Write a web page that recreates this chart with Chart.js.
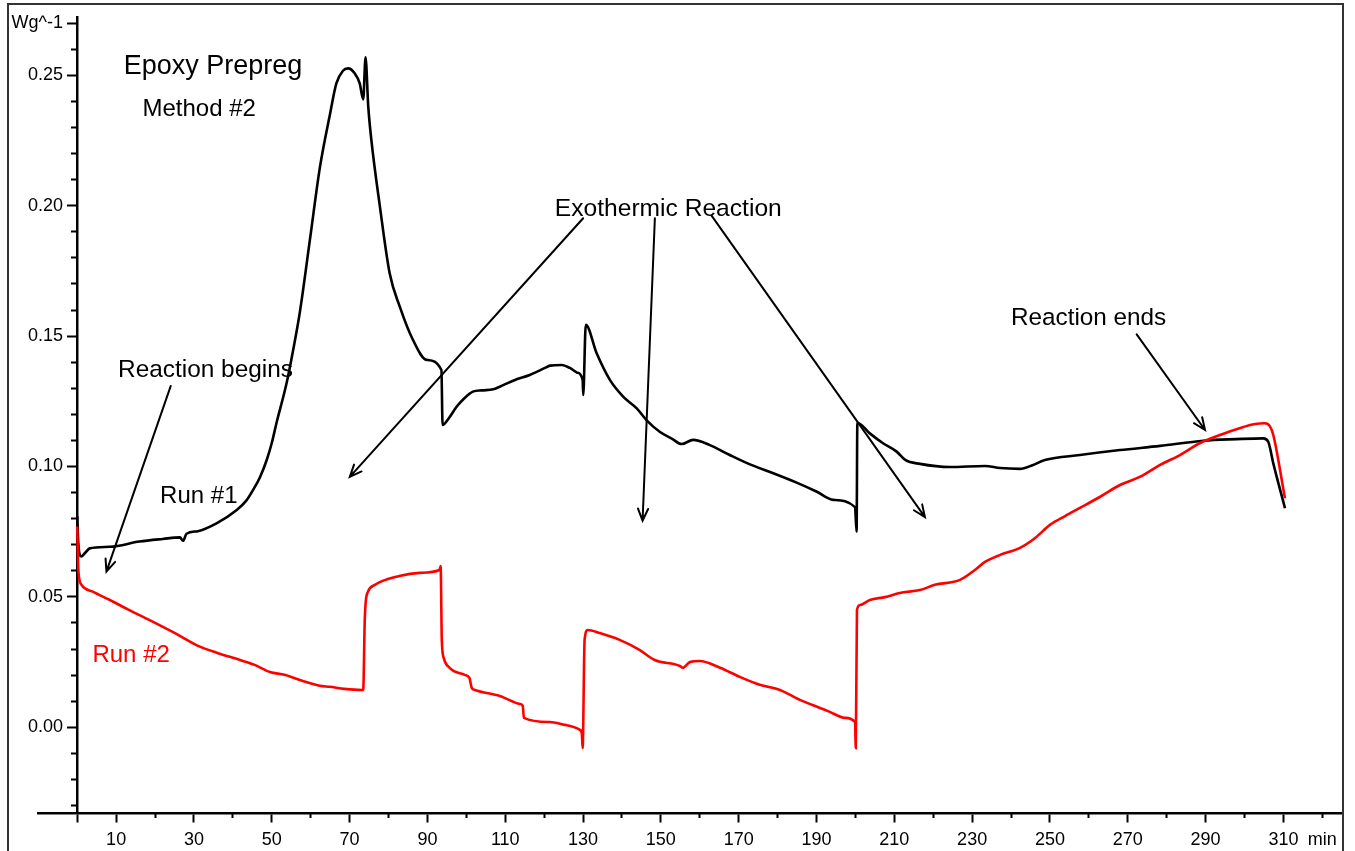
<!DOCTYPE html>
<html>
<head>
<meta charset="utf-8">
<title>Epoxy Prepreg DSC</title>
<script src="https://cdn.jsdelivr.net/npm/chart.js@4.4.1/dist/chart.umd.min.js"></script>
<style>
  html, body { margin: 0; padding: 0; background: #fff; overflow: hidden; }
  #wrap { position: relative; width: 1355px; height: 851px; }
  #plot { position: absolute; left: 0; top: 0; }
  #frame { position: absolute; left: 7px; top: 3px; width: 1337px; height: 900px;
           border: 2px solid #333; box-sizing: border-box; pointer-events: none; }
</style>
</head>
<body>
<div id="wrap">
  <canvas id="plot" width="1355" height="851"></canvas>
  <div id="frame"></div>
</div>
<script>
// Heat flow (W/g) against time (min) for the two runs: [min, W/g]
const run1Points = [
  [0, 0.081], [0.3, 0.0700], [1.0, 0.0655], [2.0, 0.0668], [3.2, 0.0686], [8.4, 0.0692],
  [16, 0.0712], [22, 0.0722], [26.4, 0.0728], [27.2, 0.0715], [28.1, 0.0742], [31, 0.0752],
  [35.8, 0.0782], [41, 0.0833], [43.5, 0.0870], [45.2, 0.0910], [47, 0.0960], [48.7, 0.1025],
  [50, 0.1090], [51.2, 0.1166], [53.8, 0.1319], [55.5, 0.1447], [57.2, 0.1590], [59.8, 0.1869],
  [62.4, 0.2150], [65.0, 0.2354], [66.6, 0.2469], [68.3, 0.2518], [69.6, 0.2527], [71.3, 0.2508],
  [72.6, 0.2469], [73.5, 0.2408], [74.1, 0.2569], [74.8, 0.2380], [75.6, 0.2252], [77.8, 0.1996],
  [80.3, 0.1741], [82.9, 0.1613], [86.3, 0.1485], [89.8, 0.1409], [93.6, 0.1370], [93.9, 0.1159],
  [95.5, 0.1185], [97.5, 0.1229], [99.5, 0.1262], [101.7, 0.1287], [104, 0.1292], [106.9, 0.1296],
  [108.6, 0.1306], [112.5, 0.1332], [116.3, 0.1351], [120.2, 0.1378], [121.5, 0.1387], [124.5, 0.1389],
  [126.6, 0.1378], [128.5, 0.1360], [129.9, 0.1332], [130.05, 0.1274], [130.7, 0.1543], [133.5, 0.1434],
  [136.9, 0.1332], [140.3, 0.1268], [143.8, 0.1223], [146.3, 0.1178], [149.7, 0.1133], [153, 0.1105],
  [155.3, 0.1086], [158.3, 0.1102], [162.6, 0.1082], [167.7, 0.1044], [172.9, 0.1008], [178.9, 0.0974],
  [184.9, 0.0938], [190.1, 0.0903], [194.3, 0.0872], [199.9, 0.0844], [200.3, 0.0750], [200.5, 0.1168],
  [203.7, 0.1127], [207.1, 0.1089], [210.6, 0.1057], [212.8, 0.1025], [216.6, 0.1010], [224.3, 0.0998],
  [233.3, 0.1002], [237.2, 0.0994], [242.3, 0.0991], [245.5, 0.1005], [248.7, 0.1025], [257.7, 0.1044],
  [268, 0.1063], [278.3, 0.1079], [289.4, 0.1099], [298, 0.1105], [304.8, 0.1108], [306.1, 0.1095],
  [307.4, 0.1012], [310.4, 0.0840]
];

const run2Points = [
  [0, 0.077], [0.3, 0.0600], [1.1, 0.0546], [4, 0.0520], [8.4, 0.0488], [13, 0.0452],
  [18.6, 0.0411], [25, 0.0362], [31.5, 0.0309], [36, 0.0285], [41.8, 0.0258], [45.6, 0.0239],
  [49.5, 0.0212], [53.3, 0.0201], [57.2, 0.0181], [62.3, 0.0159], [64.9, 0.0155], [68.7, 0.0147],
  [73.2, 0.0143], [73.5, 0.0143], [73.9, 0.0412], [74.2, 0.0488], [74.7, 0.0519], [76.5, 0.0546],
  [82.8, 0.0580], [88, 0.0592], [93.1, 0.0603], [93.4, 0.0618], [93.7, 0.0335], [94.2, 0.0266],
  [95.7, 0.0228], [99.6, 0.0201], [100.8, 0.0189], [101.4, 0.0151], [102.2, 0.0143], [108.6, 0.0120],
  [113.8, 0.0089], [114.5, 0.0082], [114.8, 0.0036], [121.5, 0.0020], [125.3, 0.0009], [129.2, -0.0010],
  [129.7, -0.0026], [129.9, -0.0080], [130.4, 0.0335], [131.2, 0.0373], [134.3, 0.0361], [139.4, 0.0335],
  [144.6, 0.0296], [148.4, 0.0258], [154.9, 0.0235], [155.6, 0.0228], [157.5, 0.0250], [160, 0.0254],
  [165.2, 0.0228], [170.3, 0.0193], [175.4, 0.0163], [180.6, 0.0143], [185.7, 0.0105], [190.9, 0.0074],
  [193.4, 0.0059], [197.3, 0.0036], [199.9, 0.0020], [200.1, -0.0080], [200.4, 0.0450], [201.2, 0.0469],
  [203.7, 0.0488], [207.6, 0.0499], [211.4, 0.0515], [216.6, 0.0526], [220.4, 0.0546], [226.9, 0.0565],
  [230.7, 0.0603], [233.3, 0.0634], [237.2, 0.0661], [242.3, 0.0688], [246.2, 0.0726], [250, 0.0776],
  [253.9, 0.0810], [257.7, 0.0841], [262.8, 0.0883], [268, 0.0929], [273.1, 0.0960], [278.3, 0.1006],
  [283.4, 0.1044], [288.6, 0.1090], [293.7, 0.1121], [298.9, 0.1148], [302.7, 0.1163], [305.2, 0.1166],
  [306.5, 0.1155], [307.4, 0.1121], [310.4, 0.0878]
];

// Axis ticks
const xMajorTicks = [0, 10, 30, 50, 70, 90, 110, 130, 150, 170, 190, 210, 230, 250, 270, 290, 310, 320];
const xMinorTicks = [20, 40, 60, 80, 100, 120, 140, 160, 180, 200, 220, 240, 260, 280, 300, 320];
const yMajorTicks = [0, 0.05, 0.10, 0.15, 0.20, 0.25, 0.27];
const yMinorTicks = [-0.03, -0.02, -0.01, 0.01, 0.02, 0.03, 0.04, 0.06, 0.07, 0.08, 0.09,
                     0.11, 0.12, 0.13, 0.14, 0.16, 0.17, 0.18, 0.19, 0.21, 0.22, 0.23, 0.24, 0.26];
const xUnitLabel = 'min';
const yUnitLabel = 'Wg^-1';

// Text notes and arrows, placed in data units [min, W/g]
const notes = [
  { text: 'Epoxy Prepreg',       at: [11.95, 0.2505], size: 27,   color: '#000' },
  { text: 'Method #2',           at: [16.76, 0.2344], size: 24,   color: '#000' },
  { text: 'Exothermic Reaction', at: [122.75, 0.1961], size: 24.6, color: '#000' },
  { text: 'Reaction ends',       at: [239.97, 0.1542], size: 24.3, color: '#000' },
  { text: 'Reaction begins',     at: [10.5, 0.1343],   size: 24.4, color: '#000' },
  { text: 'Run #1',              at: [21.3, 0.0860],   size: 24,   color: '#000' },
  { text: 'Run #2',              at: [3.91, 0.0250],   size: 24,   color: '#ff0000' }
];
const arrows = [
  { from: [24.04, 0.1309],  to: [7.51, 0.0597] },
  { from: [130.03, 0.1952], to: [70.05, 0.0960] },
  { from: [148.46, 0.1952], to: [145.30, 0.0792] },
  { from: [163.03, 0.1962], to: [217.87, 0.0806] },
  { from: [272.29, 0.1507], to: [289.85, 0.1140] }
];

const FONT = '"Liberation Sans", Arial, Helvetica, sans-serif';
const X_MIN = -10.08, X_MAX = 324.8;
const Y_MIN = -0.0329, Y_MAX = 0.2724;
// y tick labels sit just left of the tick marks (in minutes along x)
const Y_LABEL_AT = -3.65;

const toXY = pts => pts.map(p => ({ x: p[0], y: p[1] }));
const fixTicks = list => scale => { scale.ticks = list.map(v => ({ value: v })); };

const notesPlugin = {
  id: 'notes',
  afterDatasetsDraw(chart) {
    const { ctx, scales: { x, y } } = chart;
    ctx.save();
    ctx.strokeStyle = '#000';
    ctx.lineWidth = 2;
    ctx.lineCap = 'round';
    arrows.forEach(a => {
      const x0 = x.getPixelForValue(a.from[0]), y0 = y.getPixelForValue(a.from[1]);
      const x1 = x.getPixelForValue(a.to[0]),   y1 = y.getPixelForValue(a.to[1]);
      const ang = Math.atan2(y1 - y0, x1 - x0);
      const len = 13, spread = 0.4;
      ctx.beginPath();
      ctx.moveTo(x0, y0);
      ctx.lineTo(x1, y1);
      ctx.moveTo(x1 - len * Math.cos(ang - spread), y1 - len * Math.sin(ang - spread));
      ctx.lineTo(x1, y1);
      ctx.lineTo(x1 - len * Math.cos(ang + spread), y1 - len * Math.sin(ang + spread));
      ctx.stroke();
    });
    ctx.textAlign = 'left';
    ctx.textBaseline = 'alphabetic';
    notes.forEach(n => {
      ctx.font = n.size + 'px ' + FONT;
      ctx.fillStyle = n.color;
      ctx.fillText(n.text, x.getPixelForValue(n.at[0]), y.getPixelForValue(n.at[1]));
    });
    ctx.restore();
  }
};

const tickFont = { family: FONT, size: 18 };
const lineStyle = { showLine: true, pointRadius: 0, borderWidth: 2.6, cubicInterpolationMode: 'monotone' };

new Chart(document.getElementById('plot'), {
  type: 'scatter',
  data: {
    datasets: [
      Object.assign({ label: 'Run #2', data: toXY(run2Points), borderColor: '#ff0000', order: 0 }, lineStyle),
      Object.assign({ label: 'Run #1', data: toXY(run1Points), borderColor: '#000000', order: 1 }, lineStyle)
    ]
  },
  options: {
    responsive: false,
    animation: false,
    devicePixelRatio: 1,
    layout: { padding: { left: 38, right: 14, top: 17, bottom: 38 } },
    plugins: { legend: { display: false }, tooltip: { enabled: false } },
    scales: {
      x: {
        type: 'linear', min: X_MIN, max: X_MAX, position: { y: Y_MIN },
        afterBuildTicks: fixTicks(xMajorTicks),
        ticks: {
          autoSkip: false, maxRotation: 0, padding: 8, color: '#000', font: tickFont,
          callback: v => (v === 0 ? '' : v === 320 ? xUnitLabel : String(v))
        },
        grid: { drawOnChartArea: false, tickLength: 8, tickWidth: 2,
                tickColor: c => (c.tick && c.tick.value === 320 ? 'rgba(0,0,0,0)' : '#000') },
        border: { display: true, color: '#000', width: 2.5 }
      },
      x2: {
        type: 'linear', axis: 'x', min: X_MIN, max: X_MAX, position: { y: Y_MIN },
        afterBuildTicks: fixTicks(xMinorTicks),
        ticks: { display: false },
        grid: { drawOnChartArea: false, tickLength: 5, tickWidth: 2, tickColor: '#000' },
        border: { display: false }
      },
      y: {
        type: 'linear', min: Y_MIN, max: Y_MAX, position: { x: 0 },
        afterBuildTicks: fixTicks(yMajorTicks),
        ticks: { display: false },
        grid: { drawOnChartArea: false, tickLength: 9, tickWidth: 2, tickColor: '#000' },
        border: { display: true, color: '#000', width: 2.5 }
      },
      yLabels: {
        type: 'linear', axis: 'y', min: Y_MIN, max: Y_MAX, position: { x: Y_LABEL_AT },
        afterBuildTicks: fixTicks(yMajorTicks),
        ticks: {
          autoSkip: false, padding: 0, color: '#000', font: tickFont,
          callback: v => (Math.abs(v - 0.27) < 1e-9 ? yUnitLabel : v.toFixed(2))
        },
        grid: { display: false },
        border: { display: false }
      },
      y2: {
        type: 'linear', axis: 'y', min: Y_MIN, max: Y_MAX, position: { x: 0 },
        afterBuildTicks: fixTicks(yMinorTicks),
        ticks: { display: false },
        grid: { drawOnChartArea: false, tickLength: 6, tickWidth: 2, tickColor: '#000' },
        border: { display: false }
      }
    }
  },
  plugins: [notesPlugin]
});
</script>
</body>
</html>
